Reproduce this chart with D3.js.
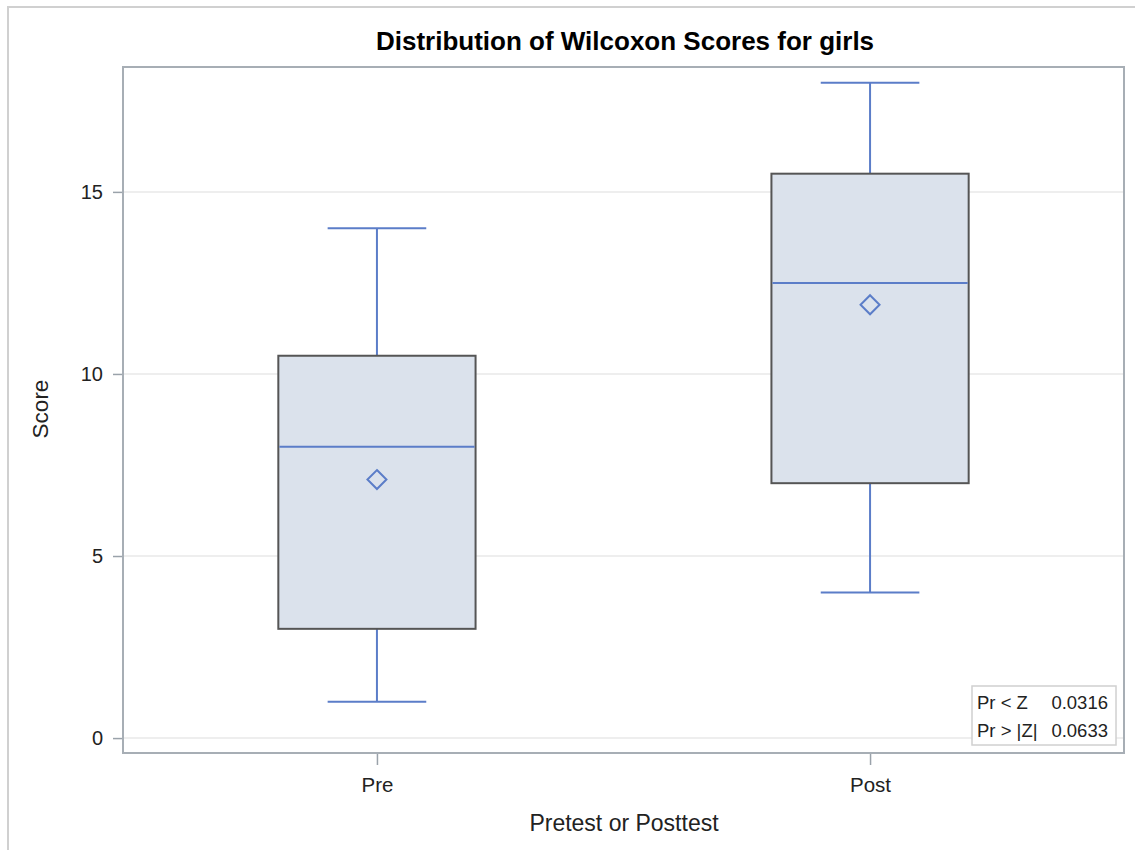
<!DOCTYPE html>
<html>
<head>
<meta charset="utf-8">
<script src="https://cdn.jsdelivr.net/npm/d3@7"></script>
<style>
  html, body { margin: 0; padding: 0; background: #fff; }
  svg { display: block; font-family: "Liberation Sans", Arial, sans-serif; }
</style>
</head>
<body>
<svg id="chart" width="1135" height="850"></svg>
<script>
// Wilcoxon score summaries per test occasion
const groups    = ["Pre", "Post"];
const whiskLow  = [1, 4];
const q1        = [3, 7];
const medians   = [8, 12.5];
const q3        = [10.5, 15.5];
const whiskHigh = [14, 18];
const means     = [7.1, 11.9];
const yTicks    = [0, 5, 10, 15];
const statLabels = ["Pr < Z", "Pr > |Z|"];
const statValues = ["0.0316", "0.0633"];

const svg = d3.select("#chart");
const W = 1135, H = 850;
const plot = { left: 123, right: 1124, top: 67, bottom: 753 };
const font = "'Liberation Sans', Arial, sans-serif";

// outer frame
svg.append("path")
  .attr("d", `M8,${H} V7 H${W}`)
  .attr("fill", "none").attr("stroke", "#d0d0d0").attr("stroke-width", 2);

const x = d3.scalePoint().domain(groups)
  .range([plot.left, plot.right]).padding(0.515);
const y = d3.scaleLinear().domain([-0.41, 18.43]).range([plot.bottom, plot.top]);
const step = x.step();
const boxW = step * 0.4;
const capW = boxW / 2;

// grid
svg.append("g").selectAll("line").data(yTicks).join("line")
  .attr("x1", plot.left).attr("x2", plot.right)
  .attr("y1", d => y(d)).attr("y2", d => y(d))
  .attr("stroke", "#e8e8e8").attr("stroke-width", 1.5);

const data = groups.map((g, i) => ({
  g, lo: whiskLow[i], q1: q1[i], med: medians[i], q3: q3[i], hi: whiskHigh[i], mean: means[i]
}));

const boxes = svg.append("g").selectAll("g").data(data).join("g")
  .attr("transform", d => `translate(${x(d.g)},0)`);

const blue = "#5b7dc8";
// whiskers
boxes.append("line").attr("x1", 0).attr("x2", 0)
  .attr("y1", d => y(d.lo)).attr("y2", d => y(d.q1))
  .attr("stroke", blue).attr("stroke-width", 2);
boxes.append("line").attr("x1", 0).attr("x2", 0)
  .attr("y1", d => y(d.q3)).attr("y2", d => y(d.hi))
  .attr("stroke", blue).attr("stroke-width", 2);
boxes.append("line").attr("x1", -capW / 2).attr("x2", capW / 2)
  .attr("y1", d => y(d.lo)).attr("y2", d => y(d.lo))
  .attr("stroke", blue).attr("stroke-width", 2);
boxes.append("line").attr("x1", -capW / 2).attr("x2", capW / 2)
  .attr("y1", d => y(d.hi)).attr("y2", d => y(d.hi))
  .attr("stroke", blue).attr("stroke-width", 2);
// box
boxes.append("rect")
  .attr("x", -boxW / 2).attr("width", boxW)
  .attr("y", d => y(d.q3)).attr("height", d => y(d.q1) - y(d.q3))
  .attr("fill", "#d9e0eb").attr("fill-opacity", 0.95)
  .attr("stroke", "#555").attr("stroke-width", 2);
// median
boxes.append("line").attr("x1", -boxW / 2 + 1).attr("x2", boxW / 2 - 1)
  .attr("y1", d => y(d.med)).attr("y2", d => y(d.med))
  .attr("stroke", blue).attr("stroke-width", 2);
// mean marker
boxes.append("path")
  .attr("d", "M0,-9.5 L9.5,0 L0,9.5 L-9.5,0 Z")
  .attr("transform", d => `translate(0,${y(d.mean)})`)
  .attr("fill", "none").attr("stroke", blue).attr("stroke-width", 2);

// axes
const yAxis = d3.axisLeft(y).tickValues(yTicks).tickSize(10).tickPadding(10);
const gy = svg.append("g").attr("transform", `translate(${plot.left},0)`).call(yAxis);
gy.select(".domain").remove();
gy.selectAll(".tick line").attr("stroke", "#9aa2aa").attr("stroke-width", 1.5);
gy.selectAll(".tick text").attr("font-size", 20).attr("fill", "#222")
  .attr("font-family", font);

const xAxis = d3.axisBottom(x).tickSize(12).tickPadding(12);
const gx = svg.append("g").attr("transform", `translate(0,${plot.bottom})`).call(xAxis);
gx.select(".domain").remove();
gx.selectAll(".tick line").attr("stroke", "#9aa2aa").attr("stroke-width", 1.5);
gx.selectAll(".tick text").attr("font-size", 20.5).attr("fill", "#222")
  .attr("font-family", font);

// plot frame
svg.append("rect")
  .attr("x", plot.left).attr("y", plot.top)
  .attr("width", plot.right - plot.left).attr("height", plot.bottom - plot.top)
  .attr("fill", "none").attr("stroke", "#a7aeb5").attr("stroke-width", 2);

// statistics inset
const inset = svg.append("g").attr("transform", "translate(972,686)");
inset.append("rect").attr("width", 144).attr("height", 59)
  .attr("fill", "#fff").attr("stroke", "#d0d0d0").attr("stroke-width", 1.5);
statLabels.forEach((lab, i) => {
  inset.append("text").attr("x", 5).attr("y", 23 + i * 28)
    .attr("font-size", 18.5).attr("fill", "#222").text(lab);
  inset.append("text").attr("x", 136).attr("y", 23 + i * 28)
    .attr("text-anchor", "end").attr("font-size", 18.5).attr("fill", "#222").text(statValues[i]);
});

// titles
svg.append("text").attr("x", 625).attr("y", 50).attr("text-anchor", "middle")
  .attr("font-size", 26).attr("font-weight", "bold").attr("fill", "#000")
  .text("Distribution of Wilcoxon Scores for girls");
svg.append("text").attr("x", 624).attr("y", 831).attr("text-anchor", "middle")
  .attr("font-size", 23).attr("fill", "#222").text("Pretest or Posttest");
svg.append("text").attr("transform", "translate(48,409) rotate(-90)")
  .attr("text-anchor", "middle").attr("font-size", 22.5).attr("fill", "#222").text("Score");
</script>
</body>
</html>
